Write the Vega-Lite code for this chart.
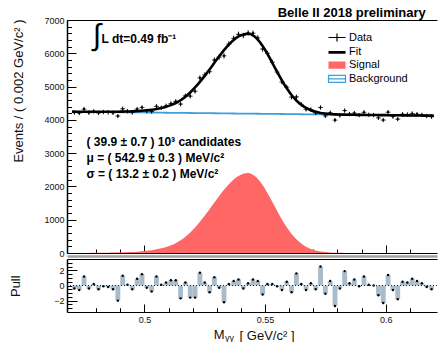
{
"$schema": "https://vega.github.io/schema/vega-lite/v6.json",
"width": 370, "height": 292,
"autosize": {"type": "none"},
"padding": {"left": 67, "top": 20, "right": 1, "bottom": 30},
"background": "white",
"config": {"view": {"stroke": null}, "font": "Liberation Sans",
  "legend": {"symbolStrokeWidth": 1.2},
  "axis": {"grid": false, "domainColor": "#000", "tickColor": "#000", "labelColor": "#111", "labelFont": "Liberation Sans", "labelFontSize": 9, "titleFont": "Liberation Sans", "titleFontWeight": "normal", "titleColor": "#111", "titleFontSize": 13, "zindex": 2, "labelFlush": false}},
"datasets": {
"bins": [
{"x":0.471,"n":4220,"e":65,"p":-0.4},{"x":0.473,"n":4206,"e":65,"p":-0.6},{"x":0.475,"n":4322,"e":66,"p":1.2},{"x":0.477,"n":4217,"e":65,"p":-0.4},{"x":0.479,"n":4255,"e":65,"p":0.2},
{"x":0.481,"n":4209,"e":65,"p":-0.5},{"x":0.483,"n":4235,"e":65,"p":-0.1},{"x":0.485,"n":4229,"e":65,"p":-0.2},{"x":0.487,"n":4211,"e":65,"p":-0.5},{"x":0.489,"n":4115,"e":64,"p":-2.0},
{"x":0.491,"n":4332,"e":66,"p":1.3},{"x":0.493,"n":4258,"e":65,"p":0.1},{"x":0.495,"n":4224,"e":65,"p":-0.5},{"x":0.497,"n":4323,"e":66,"p":0.9},{"x":0.499,"n":4372,"e":66,"p":1.5},
{"x":0.501,"n":4267,"e":65,"p":-0.3},{"x":0.503,"n":4252,"e":65,"p":-0.8},{"x":0.505,"n":4406,"e":66,"p":1.2},{"x":0.507,"n":4363,"e":66,"p":0.1},{"x":0.509,"n":4421,"e":66,"p":0.4},
{"x":0.511,"n":4490,"e":67,"p":0.7},{"x":0.513,"n":4554,"e":67,"p":0.7},{"x":0.515,"n":4474,"e":67,"p":-1.7},{"x":0.517,"n":4722,"e":69,"p":0.4},{"x":0.519,"n":4712,"e":69,"p":-1.6},
{"x":0.521,"n":4859,"e":70,"p":-1.6},{"x":0.523,"n":5262,"e":73,"p":1.7},{"x":0.525,"n":5350,"e":73,"p":0.4},{"x":0.527,"n":5448,"e":74,"p":-0.9},{"x":0.529,"n":5796,"e":76,"p":1.1},
{"x":0.531,"n":5886,"e":77,"p":-0.3},{"x":0.533,"n":5923,"e":77,"p":-2.2},{"x":0.535,"n":6278,"e":79,"p":0.2},{"x":0.537,"n":6448,"e":80,"p":0.6},{"x":0.539,"n":6569,"e":81,"p":0.8},
{"x":0.541,"n":6535,"e":81,"p":-0.4},{"x":0.543,"n":6611,"e":81,"p":0.3},{"x":0.545,"n":6604,"e":81,"p":0.8},{"x":0.547,"n":6462,"e":80,"p":0.6},{"x":0.549,"n":6127,"e":78,"p":-1.2},
{"x":0.551,"n":5998,"e":77,"p":0.2},{"x":0.553,"n":5731,"e":76,"p":0.2},{"x":0.555,"n":5436,"e":74,"p":-0.1},{"x":0.557,"n":5139,"e":72,"p":-0.6},{"x":0.559,"n":4983,"e":71,"p":0.5},
{"x":0.561,"n":4684,"e":68,"p":-0.9},{"x":0.563,"n":4690,"e":68,"p":1.6},{"x":0.565,"n":4466,"e":67,"p":0.2},{"x":0.567,"n":4318,"e":66,"p":-0.6},{"x":0.569,"n":4309,"e":66,"p":0.3},
{"x":0.571,"n":4208,"e":65,"p":-0.5},{"x":0.573,"n":4371,"e":66,"p":2.5},{"x":0.575,"n":4117,"e":64,"p":-1.1},{"x":0.577,"n":4213,"e":65,"p":0.6},{"x":0.579,"n":3992,"e":63,"p":-2.7},
{"x":0.581,"n":4134,"e":64,"p":-0.4},{"x":0.583,"n":4279,"e":65,"p":1.9},{"x":0.585,"n":4173,"e":65,"p":0.3},{"x":0.587,"n":4203,"e":65,"p":0.8},{"x":0.589,"n":4143,"e":64,"p":-0.1},
{"x":0.591,"n":4226,"e":65,"p":1.2},{"x":0.593,"n":4153,"e":64,"p":0.1},{"x":0.595,"n":4145,"e":64,"p":0.0},{"x":0.597,"n":4060,"e":64,"p":-1.3},{"x":0.599,"n":3994,"e":63,"p":-2.3},
{"x":0.601,"n":4230,"e":65,"p":1.4},{"x":0.603,"n":4100,"e":64,"p":-0.6},{"x":0.605,"n":4021,"e":63,"p":-1.8},{"x":0.607,"n":4168,"e":65,"p":0.5},{"x":0.609,"n":4160,"e":64,"p":0.4},
{"x":0.611,"n":4190,"e":65,"p":0.9},{"x":0.613,"n":4169,"e":65,"p":0.6},{"x":0.615,"n":4148,"e":64,"p":0.3},{"x":0.617,"n":4115,"e":64,"p":-0.2},{"x":0.619,"n":4094,"e":64,"p":-0.5}
],
"curve": [
{"x":0.470,"bg":4245.0,"sig":1.4,"fit":4246.4},{"x":0.471,"bg":4244.2,"sig":1.6,"fit":4245.8},{"x":0.473,"bg":4242.6,"sig":2.1,"fit":4244.7},{"x":0.475,"bg":4241.0,"sig":2.6,"fit":4243.6},
{"x":0.477,"bg":4239.4,"sig":3.4,"fit":4242.8},{"x":0.479,"bg":4237.8,"sig":4.3,"fit":4242.1},{"x":0.481,"bg":4236.2,"sig":5.6,"fit":4241.8},{"x":0.483,"bg":4234.6,"sig":7.2,"fit":4241.8},
{"x":0.485,"bg":4233.0,"sig":9.2,"fit":4242.2},{"x":0.487,"bg":4231.4,"sig":11.8,"fit":4243.2},{"x":0.489,"bg":4229.8,"sig":15.1,"fit":4244.9},{"x":0.491,"bg":4228.2,"sig":19.3,"fit":4247.5},
{"x":0.493,"bg":4226.6,"sig":24.8,"fit":4251.4},{"x":0.495,"bg":4225.0,"sig":31.7,"fit":4256.7},{"x":0.497,"bg":4223.4,"sig":40.7,"fit":4264.1},{"x":0.499,"bg":4221.8,"sig":52.1,"fit":4273.9},
{"x":0.501,"bg":4220.2,"sig":66.8,"fit":4287.0},{"x":0.503,"bg":4218.6,"sig":85.6,"fit":4304.2},{"x":0.505,"bg":4217.0,"sig":109.8,"fit":4326.8},{"x":0.507,"bg":4215.4,"sig":140.7,"fit":4356.1},
{"x":0.509,"bg":4213.8,"sig":180.4,"fit":4394.2},{"x":0.511,"bg":4212.2,"sig":231.2,"fit":4443.4},{"x":0.513,"bg":4210.6,"sig":296.4,"fit":4507.0},{"x":0.515,"bg":4209.0,"sig":380,"fit":4589.0},
{"x":0.517,"bg":4207.4,"sig":487,"fit":4694.4},{"x":0.519,"bg":4205.8,"sig":617,"fit":4822.8},{"x":0.521,"bg":4204.2,"sig":768,"fit":4972.2},{"x":0.523,"bg":4202.6,"sig":937,"fit":5139.6},
{"x":0.525,"bg":4201.0,"sig":1120,"fit":5321.0},{"x":0.527,"bg":4199.4,"sig":1315,"fit":5514.4},{"x":0.529,"bg":4197.8,"sig":1515,"fit":5712.8},{"x":0.531,"bg":4196.2,"sig":1713,"fit":5909.2},
{"x":0.533,"bg":4194.6,"sig":1900,"fit":6094.6},{"x":0.535,"bg":4193.0,"sig":2069,"fit":6262.0},{"x":0.537,"bg":4191.4,"sig":2209,"fit":6400.4},{"x":0.539,"bg":4189.8,"sig":2315,"fit":6504.8},
{"x":0.541,"bg":4188.2,"sig":2379,"fit":6567.2},{"x":0.543,"bg":4186.6,"sig":2400,"fit":6586.6},{"x":0.545,"bg":4185.0,"sig":2354,"fit":6539.0},{"x":0.547,"bg":4183.4,"sig":2230,"fit":6413.4},
{"x":0.549,"bg":4181.8,"sig":2040,"fit":6221.8},{"x":0.551,"bg":4180.2,"sig":1802,"fit":5982.2},{"x":0.553,"bg":4178.6,"sig":1537,"fit":5715.6},{"x":0.555,"bg":4177.0,"sig":1266,"fit":5443.0},
{"x":0.557,"bg":4175.4,"sig":1007,"fit":5182.4},{"x":0.559,"bg":4173.8,"sig":774,"fit":4947.8},{"x":0.561,"bg":4172.2,"sig":574,"fit":4746.2},{"x":0.563,"bg":4170.6,"sig":411,"fit":4581.6},
{"x":0.565,"bg":4169.0,"sig":284,"fit":4453.0},{"x":0.567,"bg":4167.4,"sig":190,"fit":4357.4},{"x":0.569,"bg":4165.8,"sig":123,"fit":4288.8},{"x":0.571,"bg":4164.2,"sig":76,"fit":4240.2},
{"x":0.573,"bg":4162.6,"sig":46,"fit":4208.6},{"x":0.575,"bg":4161.0,"sig":27,"fit":4188.0},{"x":0.577,"bg":4159.4,"sig":15,"fit":4174.4},{"x":0.579,"bg":4157.8,"sig":8,"fit":4165.8},
{"x":0.581,"bg":4156.2,"sig":4,"fit":4160.2},{"x":0.583,"bg":4154.6,"sig":2,"fit":4156.6},{"x":0.585,"bg":4153.0,"sig":1,"fit":4154.0},{"x":0.587,"bg":4151.4,"sig":0.3,"fit":4151.7},
{"x":0.589,"bg":4149.8,"sig":0,"fit":4149.8},{"x":0.591,"bg":4148.2,"sig":0,"fit":4148.2},{"x":0.593,"bg":4146.6,"sig":0,"fit":4146.6},{"x":0.595,"bg":4145.0,"sig":0,"fit":4145.0},
{"x":0.597,"bg":4143.4,"sig":0,"fit":4143.4},{"x":0.599,"bg":4141.8,"sig":0,"fit":4141.8},{"x":0.601,"bg":4140.2,"sig":0,"fit":4140.2},{"x":0.603,"bg":4138.6,"sig":0,"fit":4138.6},
{"x":0.605,"bg":4137.0,"sig":0,"fit":4137.0},{"x":0.607,"bg":4135.4,"sig":0,"fit":4135.4},{"x":0.609,"bg":4133.8,"sig":0,"fit":4133.8},{"x":0.611,"bg":4132.2,"sig":0,"fit":4132.2},
{"x":0.613,"bg":4130.6,"sig":0,"fit":4130.6},{"x":0.615,"bg":4129.0,"sig":0,"fit":4129.0},{"x":0.617,"bg":4127.4,"sig":0,"fit":4127.4},{"x":0.619,"bg":4125.8,"sig":0,"fit":4125.8},
{"x":0.620,"bg":4125.0,"sig":0,"fit":4125.0}
],
"series": [{"s": "Data"}, {"s": "Fit"}, {"s": "Signal"}, {"s": "Background"}]
},
"resolve": {"scale": {"y": "independent"}, "axis": {"x": "independent", "y": "independent"}},
"layer": [
{"data": {"name": "curve"},
 "mark": {"type": "area", "interpolate": "monotone", "clip": true, "color": "#ff6666", "opacity": 1, "fillOpacity": 1},
 "encoding": {
  "x": {"field": "x", "type": "quantitative", "scale": {"domain": [0.47, 0.6192], "nice": false, "zero": false},
        "axis": {"orient": "bottom", "values": [0.5, 0.55, 0.6], "format": "~g", "tickSize": -8, "labelPadding": 11, "domainWidth": 1, "title": "[ GeV/c² ]", "titleX": 227, "titleY": 27, "titleAlign": "right", "titleBaseline": "alphabetic"}},
  "y": {"field": "sig", "type": "quantitative", "scale": {"domain": [0, 7000], "range": [233, 0], "nice": false, "zero": false},
        "axis": {"orient": "left", "values": [0,1000,2000,3000,4000,5000,6000,7000], "format": "d", "tickSize": -9, "labelPadding": 12, "domainWidth": 1.5, "title": "Events / ( 0.002 GeV/c² )", "titleX": -49, "titleY": -1, "titleAlign": "right", "titleAngle": -90, "titleBaseline": "middle"}}
 }},
{"data": {"name": "curve"},
 "mark": {"type": "line", "strokeWidth": 1.8, "color": "#3f9fdc", "clip": true},
 "encoding": {
  "x": {"field": "x", "type": "quantitative", "scale": {"domain": [0.47, 0.6192], "nice": false, "zero": false},
        "axis": {"orient": "bottom", "values": [0.48,0.49,0.51,0.52,0.53,0.54,0.56,0.57,0.58,0.59,0.61], "tickSize": -4, "labels": false, "domain": false, "title": null}},
  "y": {"field": "bg", "type": "quantitative", "scale": {"domain": [0, 7000], "range": [233, 0], "nice": false, "zero": false},
        "axis": {"orient": "left", "values": [200,400,600,800,1200,1400,1600,1800,2200,2400,2600,2800,3200,3400,3600,3800,4200,4400,4600,4800,5200,5400,5600,5800,6200,6400,6600,6800], "tickSize": -4.5, "labels": false, "domain": false, "title": null}}
 }},
{"data": {"name": "curve"},
 "mark": {"type": "line", "strokeWidth": 2.6, "color": "#000", "interpolate": "monotone", "clip": true},
 "encoding": {
  "x": {"field": "x", "type": "quantitative", "scale": {"domain": [0.47, 0.6192], "nice": false, "zero": false},
        "axis": {"orient": "bottom", "offset": -59, "values": [0.5, 0.55, 0.6], "tickSize": -8, "labels": false, "domainWidth": 1.2, "title": null}},
  "y": {"field": "fit", "type": "quantitative", "scale": {"domain": [0, 7000], "range": [233, 0], "nice": false, "zero": false}, "axis": null}
 }},
{"data": {"name": "bins"},
 "mark": {"type": "errorbar", "color": "#000", "thickness": 1, "clip": true},
 "encoding": {
  "x": {"field": "x", "type": "quantitative", "scale": {"domain": [0.47, 0.6192], "nice": false, "zero": false}, "axis": null},
  "y": {"field": "n", "type": "quantitative", "scale": {"domain": [0, 7000], "range": [233, 0], "nice": false, "zero": false}, "axis": null},
  "yError": {"field": "e"}
 }},
{"data": {"name": "bins"},
 "mark": {"type": "tick", "orient": "horizontal", "size": 5, "thickness": 1, "color": "#000", "clip": true},
 "encoding": {
  "x": {"field": "x", "type": "quantitative", "scale": {"domain": [0.47, 0.6192], "nice": false, "zero": false},
        "axis": {"orient": "bottom", "offset": -59, "values": [0.48,0.49,0.51,0.52,0.53,0.54,0.56,0.57,0.58,0.59,0.61], "tickSize": -4, "labels": false, "domain": false, "title": null}},
  "y": {"field": "n", "type": "quantitative", "scale": {"domain": [0, 7000], "range": [233, 0], "nice": false, "zero": false}, "axis": null}
 }},
{"data": {"name": "bins"},
 "mark": {"type": "circle", "size": 5, "opacity": 1, "color": "#000", "clip": true},
 "encoding": {
  "x": {"field": "x", "type": "quantitative", "scale": {"domain": [0.47, 0.6192], "nice": false, "zero": false},
        "axis": {"orient": "top", "ticks": false, "labels": false, "domainWidth": 1.2, "title": null}},
  "y": {"field": "n", "type": "quantitative", "scale": {"domain": [0, 7000], "range": [233, 0], "nice": false, "zero": false}, "axis": null}
 }},
{"data": {"name": "bins"},
 "mark": {"type": "bar", "width": 4.9, "color": "#a9bccb", "clip": true},
 "encoding": {
  "x": {"field": "x", "type": "quantitative", "scale": {"domain": [0.47, 0.6192], "nice": false, "zero": false},
        "axis": {"orient": "bottom", "offset": -53, "ticks": false, "labels": false, "domainWidth": 1.2, "title": null}},
  "y": {"field": "p", "type": "quantitative", "scale": {"domain": [-3.5, 3.5], "range": [292, 239], "nice": false, "zero": false},
        "axis": {"orient": "left", "values": [-2, 0, 2], "format": "d", "tickSize": -10, "labelPadding": 13, "domainWidth": 1.5, "title": "Pull", "titleX": -52, "titleY": 265.7, "titleAlign": "center", "titleAngle": -90, "titleBaseline": "middle"}},
  "y2": {"datum": 0}
 }},
{"data": {"name": "bins"},
 "mark": {"type": "circle", "size": 6, "color": "#000", "opacity": 1, "clip": true},
 "encoding": {
  "x": {"field": "x", "type": "quantitative", "scale": {"domain": [0.47, 0.6192], "nice": false, "zero": false},
        "axis": {"orient": "bottom", "values": [0.48,0.49,0.51,0.52,0.53,0.54,0.56,0.57,0.58,0.59,0.61], "tickSize": -4, "labels": false, "domain": false, "title": null}},
  "y": {"field": "p", "type": "quantitative", "scale": {"domain": [-3.5, 3.5], "range": [292, 239], "nice": false, "zero": false},
        "axis": {"orient": "left", "values": [-3,-2.5,-1.5,-1,-0.5,0.5,1,1.5,2.5,3], "tickSize": -5, "labels": false, "domain": false, "title": null}}
 }},
{"data": {"values": [{}]},
 "mark": {"type": "rule", "strokeDash": [1, 2], "color": "#222", "strokeWidth": 1},
 "encoding": {
  "y": {"datum": 0, "type": "quantitative", "scale": {"domain": [-3.5, 3.5], "range": [292, 239], "nice": false, "zero": false}, "axis": null}
 }},
{"data": {"values": [{}]},
 "mark": {"type": "text", "align": "left", "baseline": "top", "fontWeight": "bold", "fontSize": 12, "lineHeight": 16, "font": "Liberation Sans", "color": "#000"},
 "encoding": {
  "x": {"datum": 0.476, "type": "quantitative", "scale": {"domain": [0.47, 0.6192], "nice": false, "zero": false}, "axis": null},
  "y": {"datum": 3477, "type": "quantitative", "scale": {"domain": [0, 7000], "range": [233, 0], "nice": false, "zero": false}, "axis": null},
  "text": {"value": ["( 39.9 ± 0.7 ) 10³ candidates", "μ = ( 542.9 ± 0.3 ) MeV/c²", "σ = ( 13.2 ± 0.2 ) MeV/c²"]}
 }},
{"data": {"values": [{}]},
 "mark": {"type": "text", "align": "left", "baseline": "middle", "fontWeight": "bold", "fontSize": 12, "font": "Liberation Sans", "color": "#000"},
 "encoding": {
  "x": {"datum": 0.4822, "type": "quantitative", "scale": {"domain": [0.47, 0.6192], "nice": false, "zero": false}, "axis": null},
  "y": {"datum": 6430, "type": "quantitative", "scale": {"domain": [0, 7000], "range": [233, 0], "nice": false, "zero": false}, "axis": null},
  "text": {"value": "L dt=0.49  fb⁻¹"}
 }},
{"data": {"values": [{}]},
 "mark": {"type": "text", "align": "center", "baseline": "middle", "fontSize": 30, "font": "Liberation Sans", "color": "#000"},
 "encoding": {
  "x": {"datum": 0.4803, "type": "quantitative", "scale": {"domain": [0.47, 0.6192], "nice": false, "zero": false},
        "axis": {"orient": "bottom", "offset": -56, "ticks": false, "labels": false, "domainColor": "#a0a0a0", "domainWidth": 2.5, "title": null}},
  "y": {"datum": 6519, "type": "quantitative", "scale": {"domain": [0, 7000], "range": [233, 0], "nice": false, "zero": false}, "axis": null},
  "text": {"value": "∫"}
 }},
{"data": {"values": [{}]},
 "mark": {"type": "text", "align": "right", "baseline": "alphabetic", "fontSize": 13, "fontWeight": "bold", "font": "Liberation Sans", "color": "#000"},
 "encoding": {
  "x": {"datum": 0.61664, "type": "quantitative", "scale": {"domain": [0.47, 0.6192], "nice": false, "zero": false}, "axis": null},
  "y": {"datum": 7099, "type": "quantitative", "scale": {"domain": [0, 7000], "range": [233, 0], "nice": false, "zero": false}, "axis": null},
  "text": {"value": "Belle II 2018 preliminary"}
 }},
{"data": {"values": [{}]},
 "mark": {"type": "text", "align": "right", "baseline": "alphabetic", "fontSize": 13, "font": "Liberation Sans", "color": "#111"},
 "encoding": {
  "x": {"datum": 0.53324, "type": "quantitative", "scale": {"domain": [0.47, 0.6192], "nice": false, "zero": false}, "axis": null},
  "y": {"datum": -7.066, "type": "quantitative", "scale": {"domain": [-3.5, 3.5], "range": [292, 239], "nice": false, "zero": false}, "axis": null},
  "text": {"value": "M"}
 }},
{"data": {"values": [{}]},
 "mark": {"type": "text", "align": "left", "baseline": "alphabetic", "fontSize": 9, "font": "Liberation Sans", "color": "#111"},
 "encoding": {
  "x": {"datum": 0.53344, "type": "quantitative", "scale": {"domain": [0.47, 0.6192], "nice": false, "zero": false}, "axis": null},
  "y": {"datum": -7.33, "type": "quantitative", "scale": {"domain": [-3.5, 3.5], "range": [292, 239], "nice": false, "zero": false}, "axis": null},
  "text": {"value": "γγ"}
 }},
{"data": {"name": "series"},
 "mark": {"type": "point", "opacity": 0, "strokeWidth": 1.2},
 "encoding": {
  "shape": {"field": "s", "type": "nominal",
    "scale": {"domain": ["Data", "Fit", "Signal", "Background"], "range": ["M-1.7,0H1.7M0,-0.8V0.8", "M-1.7,-0.15H1.7M-1.7,0H1.7M-1.7,0.15H1.7", "M-1.7,-0.6H1.7M-1.7,-0.4H1.7M-1.7,-0.2H1.7M-1.7,0H1.7M-1.7,0.2H1.7M-1.7,0.4H1.7M-1.7,0.6H1.7", "M-1.7,-0.7H1.7V0.7H-1.7ZM-1.7,0H1.7"]},
    "legend": {"orient": "none", "legendX": 264, "legendY": 11.5, "title": null, "padding": 0, "labelFont": "Liberation Sans", "labelFontSize": 11, "labelColor": "#000", "symbolSize": 100, "labelOffset": 6, "rowPadding": 1.8, "symbolStrokeWidth": 1.2}},
  "stroke": {"field": "s", "type": "nominal",
    "scale": {"domain": ["Data", "Fit", "Signal", "Background"], "range": ["#000000", "#000000", "#ff6666", "#3f9fdc"]},
    "legend": {"orient": "none", "legendX": 264, "legendY": 11.5, "title": null, "padding": 0, "labelFont": "Liberation Sans", "labelFontSize": 11, "labelColor": "#000", "symbolSize": 100, "labelOffset": 6, "rowPadding": 1.8, "symbolStrokeWidth": 1.2}}
 }}
]
}
